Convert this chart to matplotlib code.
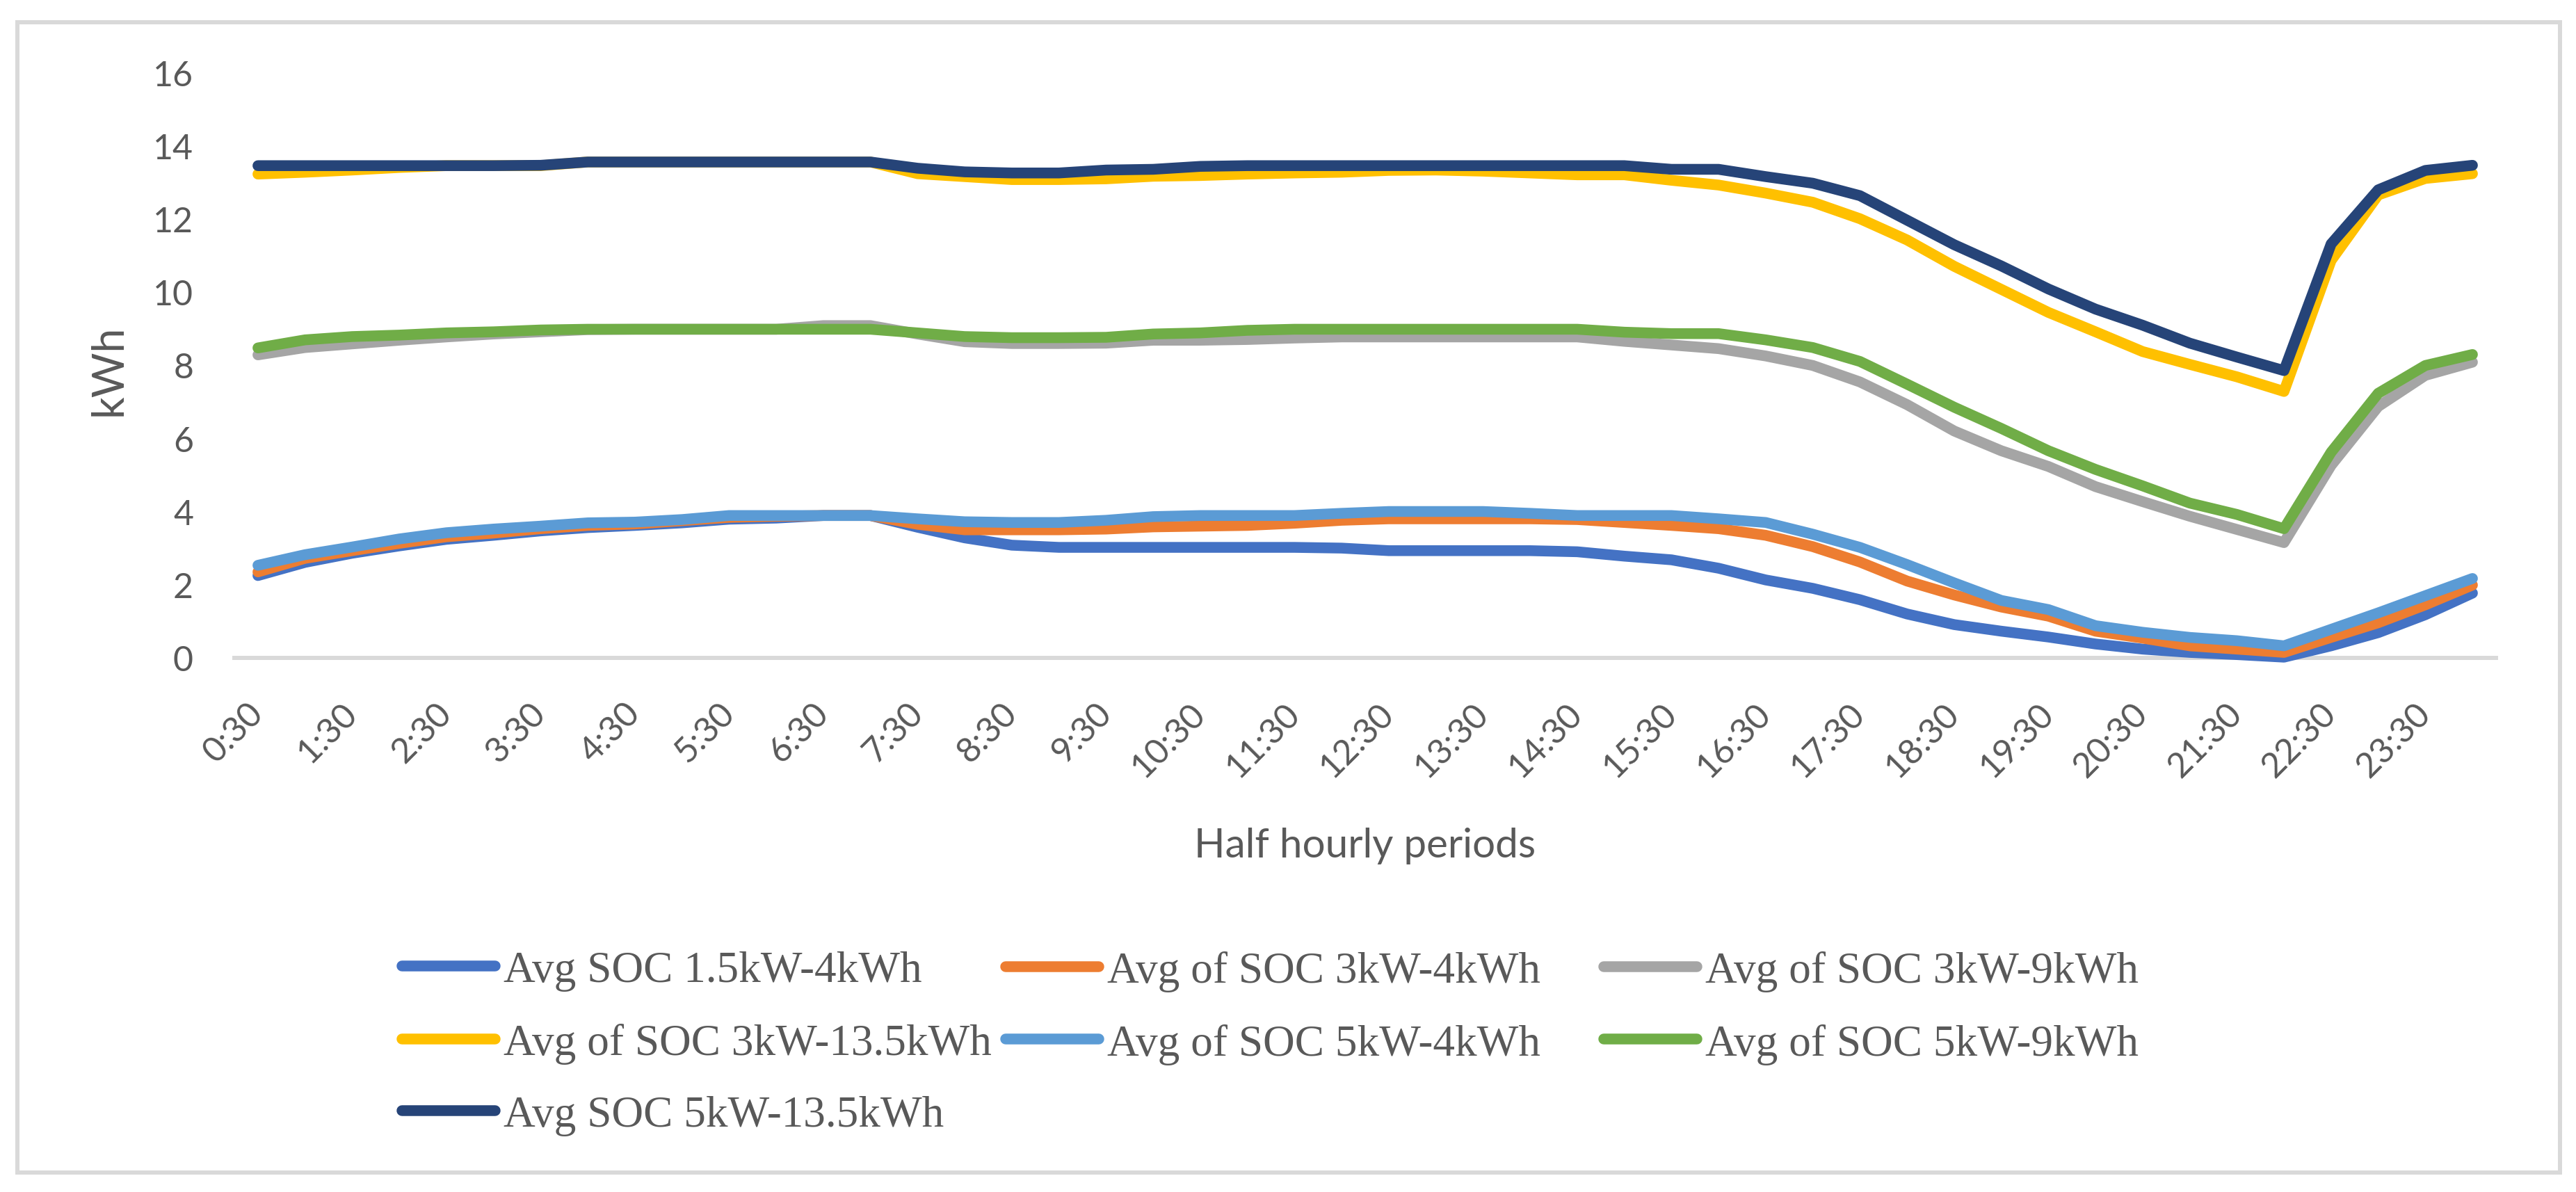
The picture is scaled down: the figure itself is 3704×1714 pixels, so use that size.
import matplotlib
matplotlib.use("Agg")
import matplotlib.pyplot as plt
from matplotlib.patches import Rectangle

plt.rcParams['font.family'] = ['Lato', 'DejaVu Sans']

# ---------------- data ----------------
times = ['0:30', '1:00', '1:30', '2:00', '2:30', '3:00', '3:30', '4:00', '4:30', '5:00',
         '5:30', '6:00', '6:30', '7:00', '7:30', '8:00', '8:30', '9:00', '9:30', '10:00',
         '10:30', '11:00', '11:30', '12:00', '12:30', '13:00', '13:30', '14:00', '14:30', '15:00',
         '15:30', '16:00', '16:30', '17:00', '17:30', '18:00', '18:30', '19:00', '19:30', '20:00',
         '20:30', '21:00', '21:30', '22:00', '22:30', '23:00', '23:30', '0:00']

soc_1_5kw_4kwh = [2.25, 2.61, 2.86, 3.06, 3.24, 3.35, 3.47, 3.56, 3.62, 3.69, 3.79, 3.82, 3.89, 3.89,
                  3.57, 3.28, 3.08, 3.02, 3.02, 3.02, 3.02, 3.02, 3.02, 3.00, 2.93, 2.93, 2.93, 2.93,
                  2.90, 2.78, 2.68, 2.45, 2.13, 1.90, 1.59, 1.20, 0.91, 0.73, 0.57, 0.38, 0.24,
                  0.15, 0.09, 0.02, 0.33, 0.69, 1.18, 1.77]
soc_3kw_4kwh = [2.35, 2.72, 2.93, 3.13, 3.31, 3.41, 3.53, 3.62, 3.66, 3.75, 3.84, 3.87, 3.89, 3.89,
                3.65, 3.50, 3.50, 3.50, 3.52, 3.58, 3.60, 3.62, 3.68, 3.76, 3.80, 3.80, 3.80, 3.80,
                3.78, 3.70, 3.62, 3.53, 3.35, 3.04, 2.62, 2.10, 1.72, 1.39, 1.14, 0.73, 0.54,
                0.33, 0.24, 0.15, 0.56, 0.96, 1.45, 1.99]
soc_3kw_9kwh = [8.28, 8.48, 8.58, 8.68, 8.77, 8.85, 8.91, 8.97, 8.98, 8.98, 8.98, 8.98, 9.08, 9.08,
                8.85, 8.64, 8.59, 8.59, 8.60, 8.68, 8.68, 8.70, 8.74, 8.77, 8.77, 8.77, 8.77, 8.77, 8.77,
                8.65, 8.55, 8.45, 8.25, 7.99, 7.54, 6.92, 6.20, 5.66, 5.23, 4.68, 4.27,
                3.87, 3.51, 3.15, 5.26, 6.87, 7.72, 8.08]
soc_3kw_13_5kwh = [13.22, 13.27, 13.33, 13.40, 13.45, 13.45, 13.45, 13.55, 13.55, 13.55, 13.55, 13.55, 13.55, 13.55,
                   13.23, 13.15, 13.07, 13.07, 13.09, 13.16, 13.18, 13.22, 13.25, 13.27, 13.32, 13.33, 13.30, 13.25,
                   13.20, 13.20, 13.05, 12.92, 12.70, 12.45, 12.00, 11.42, 10.70, 10.07, 9.44, 8.91, 8.37,
                   8.02, 7.68, 7.28, 10.86, 12.65, 13.10, 13.23]
soc_5kw_4kwh = [2.53, 2.82, 3.03, 3.25, 3.42, 3.52, 3.60, 3.69, 3.71, 3.78, 3.89, 3.89, 3.89, 3.89,
                3.80, 3.72, 3.70, 3.70, 3.76, 3.86, 3.89, 3.89, 3.89, 3.95, 4.00, 4.00, 4.00, 3.95,
                3.89, 3.89, 3.89, 3.80, 3.70, 3.38, 3.02, 2.55, 2.05, 1.57, 1.32, 0.88, 0.70,
                0.56, 0.47, 0.33, 0.78, 1.23, 1.70, 2.17]
soc_5kw_9kwh = [8.47, 8.69, 8.78, 8.82, 8.88, 8.91, 8.96, 8.98, 8.98, 8.98, 8.98, 8.98, 8.98, 8.98,
                8.88, 8.78, 8.75, 8.75, 8.76, 8.85, 8.88, 8.95, 8.98, 8.98, 8.98, 8.98, 8.98, 8.98, 8.98,
                8.90, 8.86, 8.86, 8.69, 8.48, 8.10, 7.48, 6.85, 6.27, 5.66, 5.15, 4.70,
                4.23, 3.92, 3.53, 5.62, 7.23, 7.99, 8.29]
soc_5kw_13_5kwh = [13.45, 13.45, 13.45, 13.45, 13.45, 13.45, 13.46, 13.55, 13.55, 13.55, 13.55, 13.55, 13.55, 13.55,
                   13.38, 13.28, 13.25, 13.25, 13.33, 13.35, 13.43, 13.45, 13.45, 13.45, 13.45, 13.45, 13.45, 13.45,
                   13.45, 13.45, 13.35, 13.35, 13.15, 12.97, 12.63, 11.96, 11.29, 10.71, 10.08, 9.53, 9.09,
                   8.60, 8.22, 7.85, 11.31, 12.79, 13.32, 13.46]

labels = ['Avg SOC 1.5kW-4kWh', 'Avg of SOC 3kW-4kWh', 'Avg of SOC 3kW-9kWh',
          'Avg of SOC 3kW-13.5kWh', 'Avg of SOC 5kW-4kWh', 'Avg of SOC 5kW-9kWh',
          'Avg SOC 5kW-13.5kWh']
series = [soc_1_5kw_4kwh, soc_3kw_4kwh, soc_3kw_9kwh, soc_3kw_13_5kwh,
          soc_5kw_4kwh, soc_5kw_9kwh, soc_5kw_13_5kwh]
colors = ['#4472C4', '#ED7D31', '#A5A5A5', '#FFC000', '#5B9BD5', '#70AD47', '#264478']

# ---------------- layout ----------------
W, H, DPI = 3704, 1715, 100
PT = 72.0 / DPI
fig = plt.figure(figsize=(W / DPI, H / DPI), dpi=DPI)
fig.patch.set_facecolor('white')

L, R, T, B = 337, 3589, 105, 947
ax = fig.add_axes([L / W, 1 - B / H, (R - L) / W, (B - T) / H])

TXT = '#595959'
LW = 15.5 * PT

x = list(range(len(times)))
lines = []
for k, (vals, col, lab) in enumerate(zip(series, colors, labels)):
    ln, = ax.plot(x, vals, color=col, lw=LW, solid_capstyle='round',
                  solid_joinstyle='round', clip_on=False, zorder=3 + k, label=lab)
    lines.append(ln)

ax.set_xlim(-0.5, len(times) - 0.5)
ax.set_ylim(0, 16)
ax.set_yticks(range(0, 17, 2))
ax.set_xticks(x[::2])
ax.set_xticklabels(times[::2], rotation=45, ha='right', va='center',
                   rotation_mode='anchor')

for s in ['left', 'right', 'top']:
    ax.spines[s].set_visible(False)
ax.spines['bottom'].set_color('#D9D9D9')
ax.spines['bottom'].set_linewidth(6 * PT)
ax.spines['bottom'].set_zorder(2)

ax.tick_params(axis='both', length=0, labelcolor=TXT, labelsize=36)
ax.tick_params(axis='x', pad=72 * PT)
ax.tick_params(axis='y', pad=59 * PT)

ax.set_xlabel('Half hourly periods', fontsize=42, color=TXT)
ax.xaxis.set_label_coords(0.5, (B - 1233) / (B - T))
ax.xaxis.label.set_va('baseline')

ax.set_ylabel('kWh', fontsize=45, color=TXT)
ax.yaxis.set_label_coords((157 - L) / (R - L), (B - 532) / (B - T))
ax.yaxis.label.set_va('center')

# ---------------- legend (3 columns, Excel style) ----------------
FS = 45.5
fs_px = FS / PT
cols = [[0, 3, 6], [1, 4], [2, 5]]
col_x = [577.5, 1445.5, 2305.5]
for idx, cx in zip(cols, col_x):
    fig.legend([lines[i] for i in idx], [labels[i] for i in idx],
               loc='upper left', bbox_to_anchor=(cx / W, 1 - 1368 / H),
               frameon=False, borderpad=0, borderaxespad=0,
               handlelength=134 / fs_px, handletextpad=12.5 / fs_px,
               labelspacing=0.72,
               prop={'family': 'Liberation Serif', 'size': FS},
               labelcolor=TXT)

# outer chart border
fig.patches.append(Rectangle((25 / W, 1 - 1687 / H), (3681 - 25) / W, (1687 - 33) / H,
                             transform=fig.transFigure, fill=False,
                             edgecolor='#D9D9D9', linewidth=6 * PT, zorder=0))

fig.savefig('out.png', dpi=DPI, facecolor='white')
